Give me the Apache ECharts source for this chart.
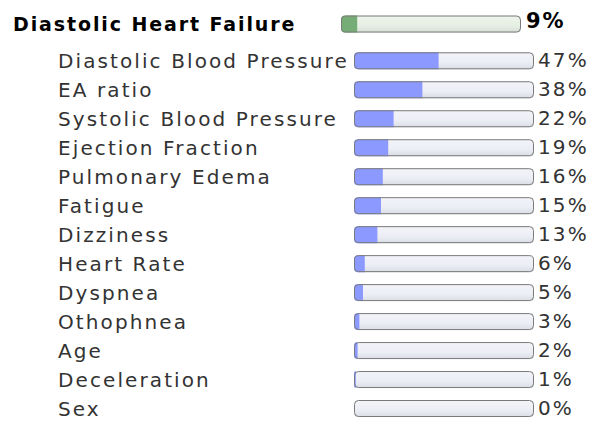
<!DOCTYPE html>
<html>
<head>
<meta charset="utf-8">
<script src="https://cdn.jsdelivr.net/npm/echarts@6/dist/echarts.min.js"></script>
<style>
html,body{margin:0;padding:0;background:#fff;}
#chart{width:595px;height:423px;}
#chart text{letter-spacing:2.1px;}
#chart text[style*="bold"]{letter-spacing:1.9px;}
</style>
</head>
<body>
<div id="chart"></div>
<script>
var headerLabel = ['Diastolic Heart Failure'];
var headerValue = [9];
var categories = ['Diastolic Blood Pressure','EA ratio','Systolic Blood Pressure','Ejection Fraction','Pulmonary Edema','Fatigue','Dizziness','Heart Rate','Dyspnea','Othophnea','Age','Deceleration','Sex'];
var values = [47,38,22,19,16,15,13,6,5,3,2,1,0];
var fullScale = 100;

function fill(arr, v){ return arr.map(function(){ return v; }); }

var chart = echarts.init(document.getElementById('chart'), null, {renderer:'svg'});
var FONT = 'DejaVu Sans';
var option = {
  animation:false,
  grid:[
    {left:341, width:180, top:9.3, height:29.45},
    {left:354, width:180, top:46.3, height:382.9}
  ],
  xAxis:[
    {gridIndex:0, type:'value', min:0, max:fullScale, show:false},
    {gridIndex:1, type:'value', min:0, max:fullScale, show:false}
  ],
  yAxis:[
    {gridIndex:0, type:'category', inverse:true, data:headerLabel,
     axisLine:{show:false}, axisTick:{show:false}, splitLine:{show:false},
     axisLabel:{align:'left', margin:328, fontSize:19, fontWeight:'bold', color:'#000', fontFamily:FONT, padding:[0,0,7,0]}},
    {gridIndex:1, type:'category', inverse:true, data:categories,
     axisLine:{show:false}, axisTick:{show:false}, splitLine:{show:false},
     axisLabel:{align:'left', margin:296, fontSize:20, color:'#333', fontFamily:FONT, interval:0, padding:[0,0,2,0]}}
  ],
  series:[
    // header
    {type:'bar', xAxisIndex:0, yAxisIndex:0, data:fill(headerValue, fullScale), barWidth:17, barGap:'-100%', silent:true,
     itemStyle:{borderRadius:4, color:new echarts.graphic.LinearGradient(0,0,0,1,[{offset:0,color:'#eef5ec'},{offset:0.6,color:'#e6efe4'},{offset:1,color:'#d5dfd3'}])}},
    {type:'bar', xAxisIndex:0, yAxisIndex:0, data:headerValue, barWidth:17, barGap:'-100%', silent:true,
     itemStyle:{borderRadius:[4,0,0,4], color:'#76ad76'}},
    {type:'bar', xAxisIndex:0, yAxisIndex:0, data:fill(headerValue, fullScale), barWidth:17, barGap:'-100%', silent:true,
     itemStyle:{borderRadius:4, color:'rgba(0,0,0,0)', borderColor:'#7a7a7a', borderWidth:1},
     label:{show:true, position:'right', distance:5, offset:[0,-3], fontSize:21, fontWeight:'bold', color:'#000', fontFamily:FONT,
       formatter:function(p){ return headerValue[p.dataIndex] + '%'; }}},
    // children
    {type:'bar', xAxisIndex:1, yAxisIndex:1, data:fill(values, fullScale), barWidth:17, barGap:'-100%', silent:true,
     itemStyle:{borderRadius:4, color:new echarts.graphic.LinearGradient(0,0,0,1,[{offset:0,color:'#f3f4f9'},{offset:0.6,color:'#eceef5'},{offset:1,color:'#d9dce4'}])}},
    {type:'bar', xAxisIndex:1, yAxisIndex:1, data:values, barWidth:17, barGap:'-100%', silent:true,
     itemStyle:{borderRadius:[4,0,0,4], color:'#8c9aff'}},
    {type:'bar', xAxisIndex:1, yAxisIndex:1, data:fill(values, fullScale), barWidth:17, barGap:'-100%', silent:true,
     itemStyle:{borderRadius:4, color:'rgba(0,0,0,0)', borderColor:'#7a7a7a', borderWidth:1},
     label:{show:true, position:'right', distance:4, offset:[0,-1], fontSize:20, color:'#333', fontFamily:FONT,
       formatter:function(p){ return values[p.dataIndex] + '%'; }}}
  ]
};
chart.setOption(option);
</script>
</body>
</html>
